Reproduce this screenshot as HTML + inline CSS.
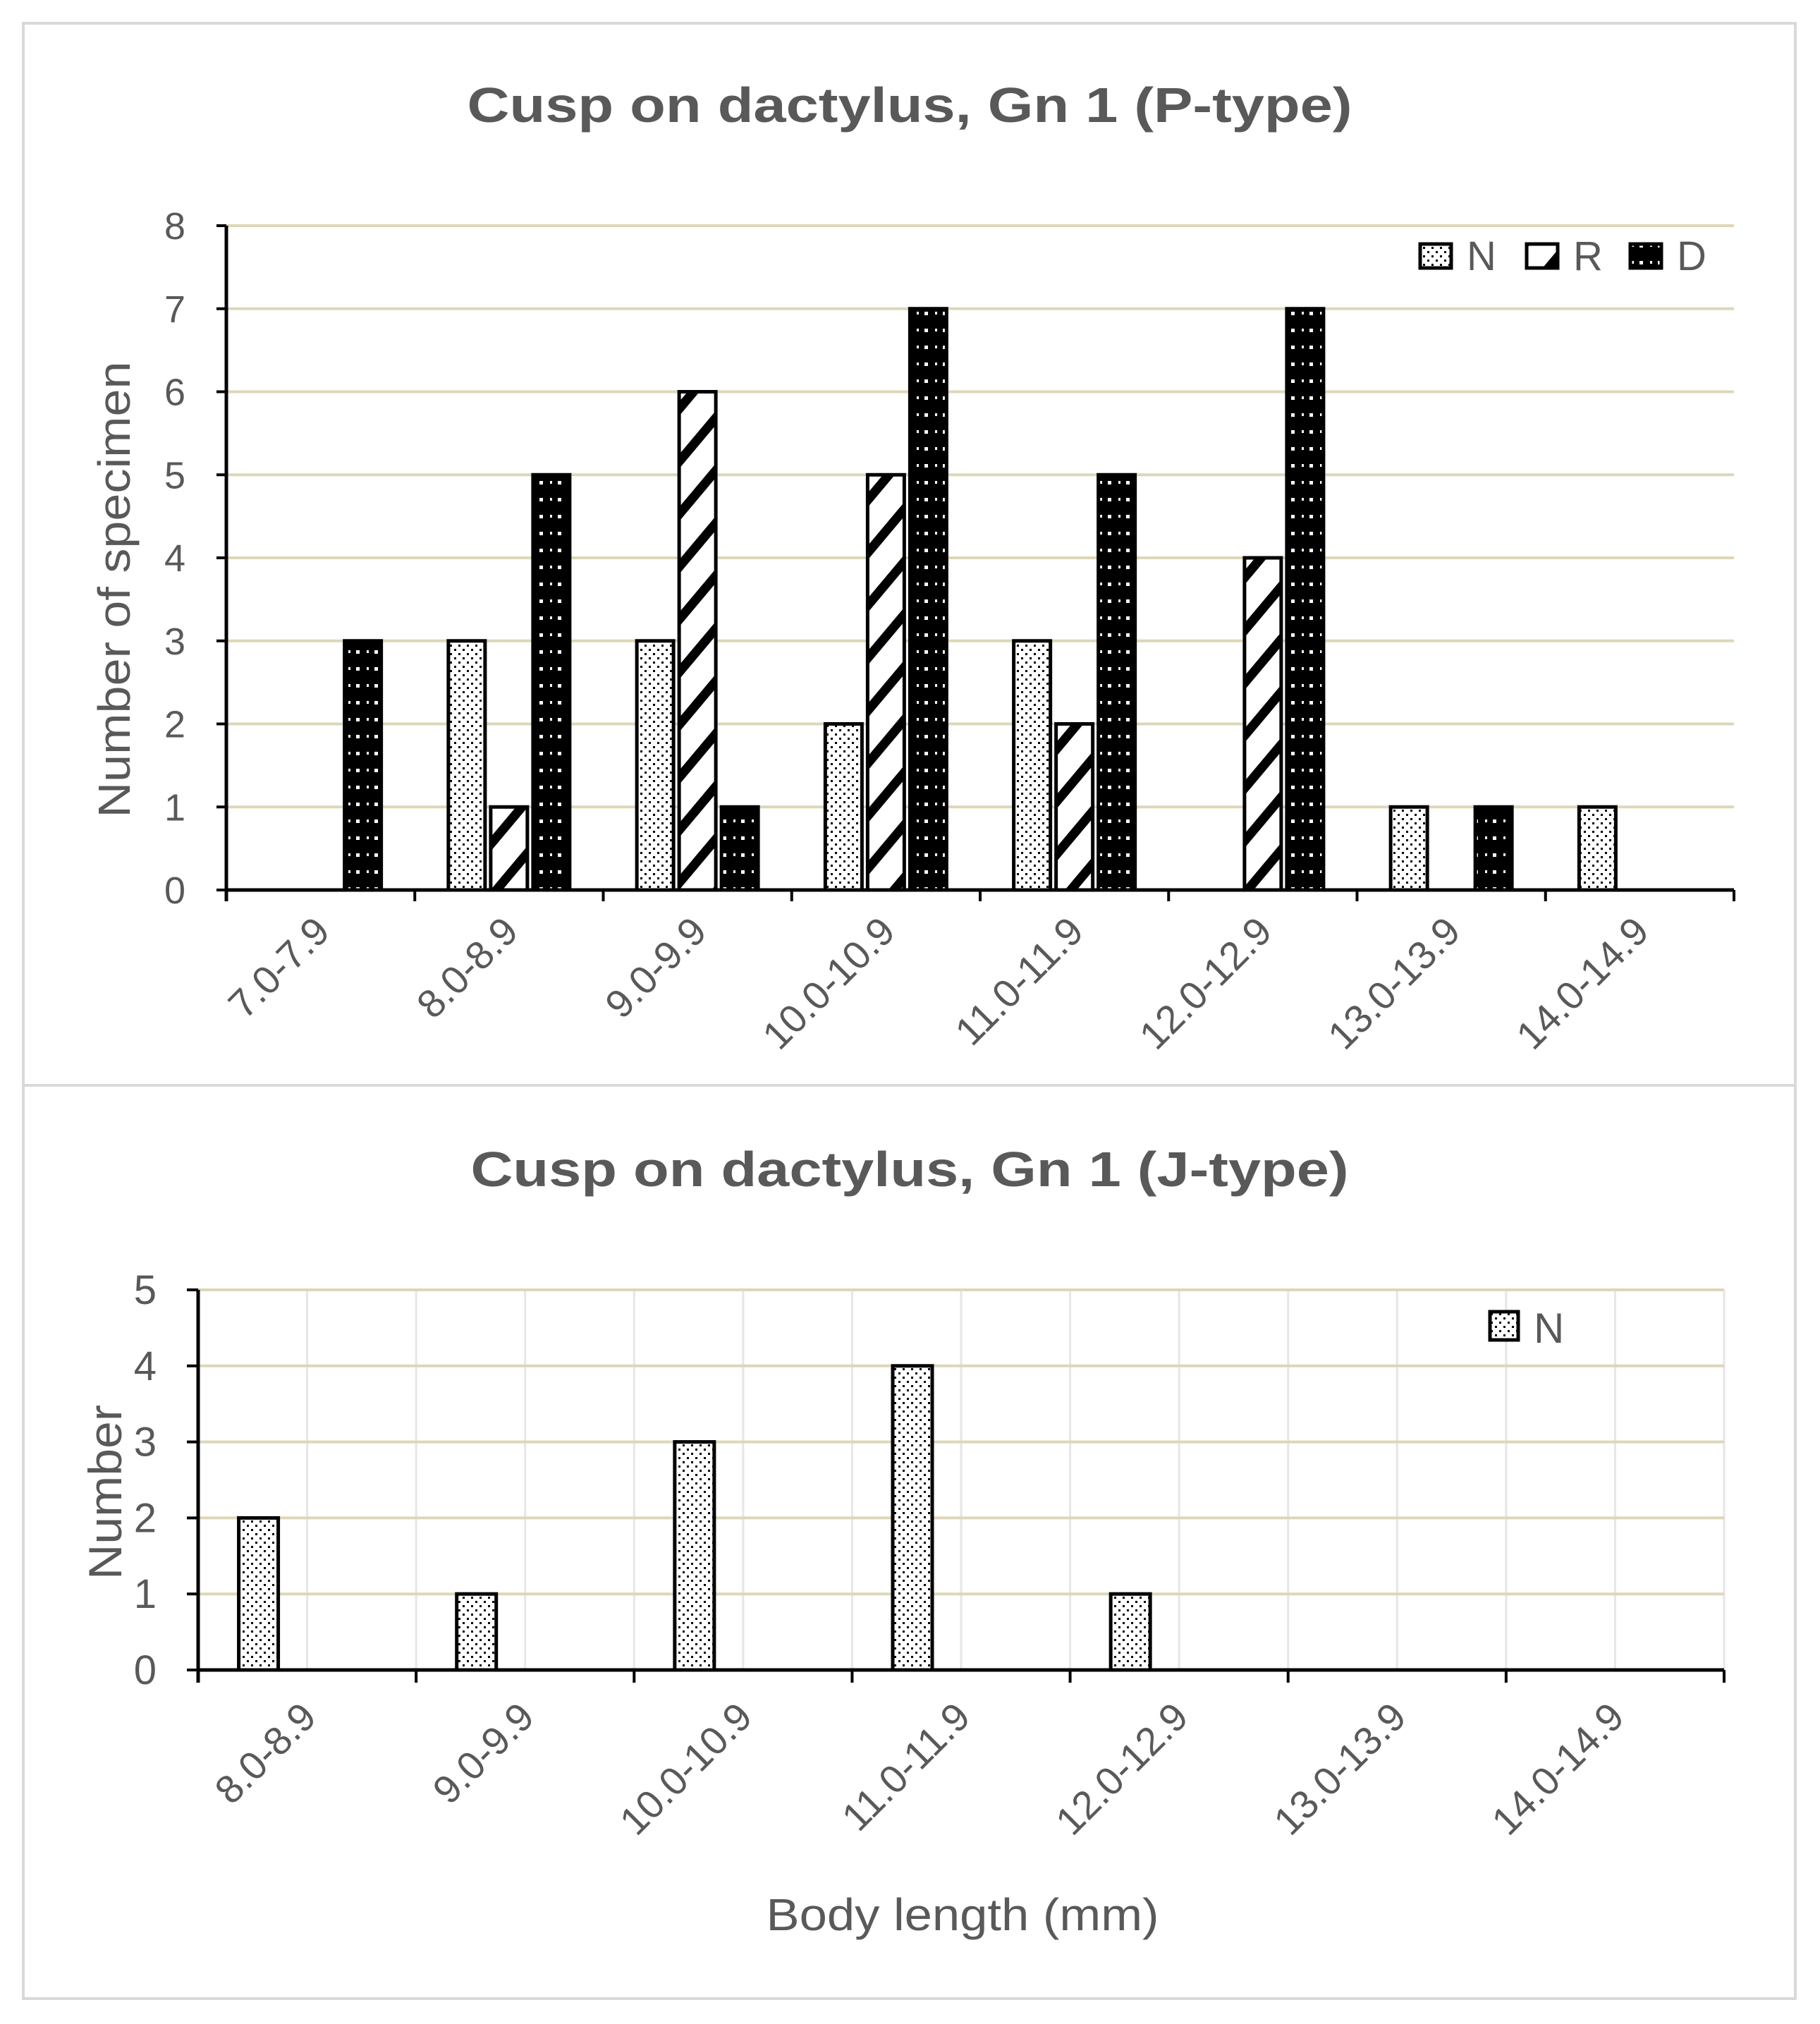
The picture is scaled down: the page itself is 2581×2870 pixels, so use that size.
<!DOCTYPE html>
<html><head><meta charset="utf-8">
<style>
html,body{margin:0;padding:0;background:#fff;}
svg{display:block;}
text{font-family:"Liberation Sans",sans-serif;fill:#595959;}
</style></head>
<body>
<svg id="root" width="2581" height="2870" viewBox="0 0 2581 2870" xmlns="http://www.w3.org/2000/svg">
<defs>
<pattern id="patN" width="12" height="12" patternUnits="userSpaceOnUse">
<rect width="12" height="12" fill="#fff"/><rect x="2" y="2" width="3" height="3" fill="#000"/><rect x="8" y="8" width="3" height="3" fill="#000"/>
</pattern>
<pattern id="patR" width="48" height="48" patternUnits="userSpaceOnUse" patternTransform="rotate(-50)">
<rect width="48" height="48" fill="#fff"/><rect x="0" y="0" width="48" height="13" fill="#000"/>
</pattern>
<pattern id="patD" width="26" height="24" patternUnits="userSpaceOnUse">
<rect width="26" height="24" fill="#000"/><rect x="11" y="10" width="5" height="5" fill="#fff"/><rect x="0" y="10" width="3" height="4" fill="#fff"/>
</pattern>
</defs>
<rect x="33" y="33" width="2513" height="2801" fill="#fff" stroke="#d9d9d9" stroke-width="4"/>
<line x1="33" y1="1539" x2="2546" y2="1539" stroke="#d9d9d9" stroke-width="4"/>
<g id="c1"></g>
<g id="c2"></g>
</svg>
<script>
const cats1 = ["7.0-7.9","8.0-8.9","9.0-9.9","10.0-10.9","11.0-11.9","12.0-12.9","13.0-13.9","14.0-14.9"];
const seriesN1 = [0,3,3,2,3,0,1,1];
const seriesR1 = [0,1,6,5,2,4,0,0];
const seriesD1 = [3,5,1,7,5,7,1,0];
const ticks1 = [0,1,2,3,4,5,6,7,8];
const cats2 = ["8.0-8.9","9.0-9.9","10.0-10.9","11.0-11.9","12.0-12.9","13.0-13.9","14.0-14.9"];
const seriesN2 = [2,1,3,4,1,0,0];
const ticks2 = [0,1,2,3,4,5];

const NS="http://www.w3.org/2000/svg";
function mk(parent,tag,attrs,txt){const e=document.createElementNS(NS,tag);for(const k in attrs)e.setAttribute(k,attrs[k]);if(txt!==undefined)e.textContent=txt;parent.appendChild(e);return e;}

// ---- Chart 1 ----
(function(){
const g=document.getElementById('c1');
const x0=321,x1=2459,y0=1262,yTop=320,ymax=8;
const cw=(x1-x0)/cats1.length;
const ys=v=>y0-(v/ymax)*(y0-yTop);
const xc=i=>x0+cw*(i+0.5);
let t=mk(g,'text',{x:1290,y:173,'text-anchor':'middle','font-size':70,'font-weight':'bold',textLength:1255,lengthAdjust:'spacingAndGlyphs'},'Cusp on dactylus, Gn 1 (P-type)');


ticks1.forEach(v=>{
  if(v>0){const l=mk(g,'line',{x1:x0,x2:x1,y1:ys(v),y2:ys(v),stroke:'#ddd7b8','stroke-width':4});
  
  }
  const tl=mk(g,'text',{x:263,y:ys(v)+19,'text-anchor':'end','font-size':54},String(v));
  
  
  mk(g,'line',{x1:x0-14,x2:x0,y1:ys(v),y2:ys(v),stroke:'#000','stroke-width':4});
});
const bw=52,gap=8;
const sers=[[seriesN1,'patN','bar-n'],[seriesR1,'patR','bar-r'],[seriesD1,'patD','bar-d']];
cats1.forEach((c,i)=>{
  sers.forEach((s,j)=>{
    const v=s[0][i]; if(!v) return;
    const bx=xc(i)+(j-1)*(bw+gap)-bw/2;
    const r=mk(g,'rect',{x:bx,y:ys(v),width:bw,height:y0-ys(v),fill:'url(#'+s[1]+')',stroke:'#000','stroke-width':5});
    
    
  });
  const lx=xc(i)+16,ly=y0+62;
  const lb=mk(g,'text',{x:lx,y:ly,'text-anchor':'end','font-size':56,transform:`rotate(-45 ${lx} ${ly})`},c);
  
  
});
for(let i=0;i<=cats1.length;i++){mk(g,'line',{x1:x0+cw*i,x2:x0+cw*i,y1:y0,y2:y0+16,stroke:'#000','stroke-width':4});}
let ax=mk(g,'line',{x1:x0,x2:x1,y1:y0,y2:y0,stroke:'#000','stroke-width':5});


ax=mk(g,'line',{x1:x0,x2:x0,y1:yTop,y2:y0+16,stroke:'#000','stroke-width':5});


const yt=mk(g,'text',{x:0,y:0,'text-anchor':'middle','font-size':64,textLength:647,lengthAdjust:'spacingAndGlyphs',transform:'translate(184 836) rotate(-90)'},'Number of specimen');


const leg=[['patN','N',2014],['patR','R',2165],['patD','D',2312]];
leg.forEach(l=>{
  const b=mk(g,'rect',{x:l[2],y:346,width:44,height:34,fill:'url(#'+l[0]+')',stroke:'#000','stroke-width':5});
  
  
  const tx=mk(g,'text',{x:l[2]+66,y:383,'font-size':58},l[1]);
  
  
});
})();

// ---- Chart 2 ----
(function(){
const g=document.getElementById('c2');
const x0=281,x1=2445,y0=2368,yTop=1829,ymax=5;
const cw=(x1-x0)/cats2.length;
const ys=v=>y0-(v/ymax)*(y0-yTop);
const xc=i=>x0+cw*(i+0.5);
let t=mk(g,'text',{x:1290,y:1682,'text-anchor':'middle','font-size':70,'font-weight':'bold',textLength:1245,lengthAdjust:'spacingAndGlyphs'},'Cusp on dactylus, Gn 1 (J-type)');


for(let i=1;i<=cats2.length*2;i++){
  const vx=x0+cw*i/2;
  const l=mk(g,'line',{x1:vx,x2:vx,y1:yTop,y2:y0,stroke:'#e6e6e6','stroke-width':3});
  
  
}
ticks2.forEach(v=>{
  if(v>0){const l=mk(g,'line',{x1:x0,x2:x1,y1:ys(v),y2:ys(v),stroke:'#ddd7b8','stroke-width':4});
  
  }
  const tl=mk(g,'text',{x:222,y:ys(v)+20,'text-anchor':'end','font-size':58},String(v));
  
  
  mk(g,'line',{x1:x0-16,x2:x0,y1:ys(v),y2:ys(v),stroke:'#000','stroke-width':4});
});
const bw=56;
cats2.forEach((c,i)=>{
  const v=seriesN2[i];
  if(v){
    const r=mk(g,'rect',{x:xc(i)-69-bw/2,y:ys(v),width:bw,height:y0-ys(v),fill:'url(#patN)',stroke:'#000','stroke-width':5});
    
    
  }
  const lx=xc(i)+16,ly=y0+70;
  const lb=mk(g,'text',{x:lx,y:ly,'text-anchor':'end','font-size':56,transform:`rotate(-45 ${lx} ${ly})`},c);
  
  
});
for(let i=0;i<=cats2.length;i++){mk(g,'line',{x1:x0+cw*i,x2:x0+cw*i,y1:y0,y2:y0+18,stroke:'#000','stroke-width':4});}
let ax=mk(g,'line',{x1:x0,x2:x1,y1:y0,y2:y0,stroke:'#000','stroke-width':5});


ax=mk(g,'line',{x1:x0,x2:x0,y1:yTop,y2:y0+18,stroke:'#000','stroke-width':5});


const yt=mk(g,'text',{x:0,y:0,'text-anchor':'middle','font-size':66,textLength:248,lengthAdjust:'spacingAndGlyphs',transform:'translate(172 2116) rotate(-90)'},'Number');


const xt=mk(g,'text',{x:1365,y:2737,'text-anchor':'middle','font-size':64,textLength:557,lengthAdjust:'spacingAndGlyphs'},'Body length (mm)');


const b=mk(g,'rect',{x:2113,y:1860,width:40,height:40,fill:'url(#patN)',stroke:'#000','stroke-width':5});


const tx=mk(g,'text',{x:2175,y:1904,'font-size':60},'N');


})();
</script>
</body></html>
